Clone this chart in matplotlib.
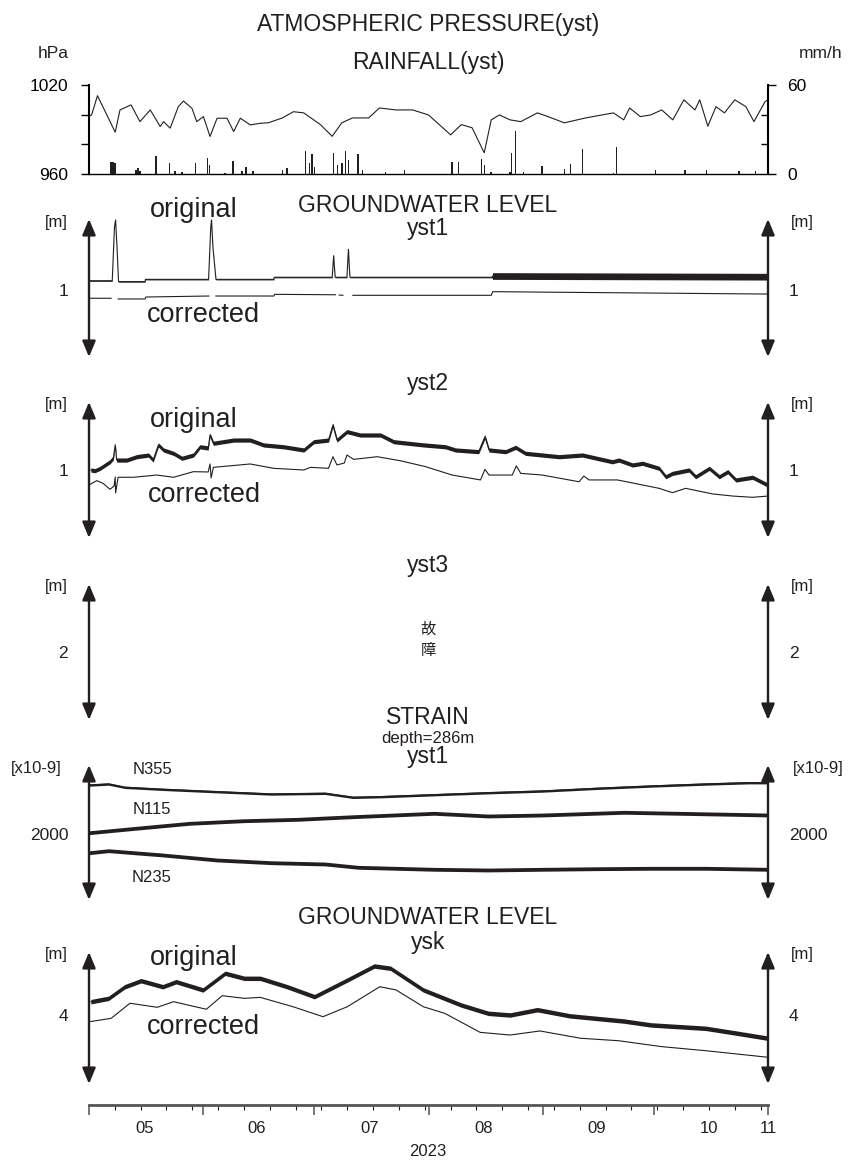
import numpy as np
import matplotlib
matplotlib.use('Agg')
import matplotlib.pyplot as plt
import matplotlib.dates as mdates

plt.rcParams['font.family'] = ['Liberation Sans', 'DejaVu Sans']

INK = '#231f20'
W, H = 850, 1164
START = np.datetime64('2023-05-01T00:00')
END = np.datetime64('2023-11-01T00:00')
nan = np.nan

# ---- data (days counted from 2023-05-01) ----
press_days = [0.0, 0.7, 2.3, 7.1, 8.4, 11.4, 13.8, 16.6, 19.3, 20.2, 22.0, 24.2, 25.6,
              27.9, 29.2, 31.0, 32.8, 34.7, 37.4, 39.2, 41.0, 43.7, 46.4, 48.6, 52.4,
              55.4, 58.2, 62.7, 65.9, 68.5, 71.4, 75.8, 78.7, 83.2, 87.7, 92.0, 98.0,
              100.9, 103.8, 107.1, 109.0, 111.2, 114.1, 117.0, 121.5, 124.4, 128.8,
              134.6, 142.1, 144.9, 146.5, 149.4, 152.2, 155.2, 158.2, 161.2, 164.2,
              165.5, 167.7, 169.9, 172.2, 175.0, 178.0, 180.2, 183.2, 184.0]
press_hpa = [999.0, 999.8, 1012.8, 988.2, 1003.2, 1006.6, 995.3, 1003.2, 992.0, 995.3,
             990.9, 1005.4, 1009.2, 1004.3, 995.3, 998.7, 985.3, 997.6, 997.6, 988.6,
             997.6, 993.1, 994.2, 994.5, 997.8, 1002.0, 1001.2, 993.3, 985.4, 994.5,
             997.8, 997.8, 1004.5, 1003.2, 1003.2, 999.8, 986.4, 993.3, 991.2, 974.3,
             996.5, 999.8, 996.5, 995.3, 1001.2, 998.7, 994.5, 997.8, 1001.2, 996.5,
             1004.5, 998.7, 999.8, 1003.2, 996.5, 1010.0, 1003.2, 1010.0, 992.2, 1005.4,
             1001.2, 1010.0, 1005.4, 995.3, 1008.8, 1010.0]

rain_days = [6.0, 6.5, 7.1, 12.8, 13.3, 13.8, 18.2, 21.8, 23.3, 25.2, 28.8, 32.1, 32.6,
             36.9, 39.0, 41.4, 42.6, 44.4, 52.4, 53.7, 58.6, 59.7, 60.4, 61.1, 66.2,
             67.3, 68.5, 69.5, 70.3, 72.9, 74.1, 80.3, 85.5, 98.4, 100.1, 106.3, 107.2,
             109.0, 114.1, 114.5, 115.6, 117.8, 122.7, 128.8, 130.5, 133.7, 142.1, 142.9,
             153.5, 161.5, 167.4, 176.1, 180.6]
rain_mmh = [8.0, 8.2, 7.5, 3.0, 4.0, 2.0, 11.8, 7.4, 1.7, 1.5, 7.4, 10.7, 6.0, 1.0, 9.0,
            1.7, 5.0, 1.7, 2.7, 4.2, 15.5, 7.3, 13.3, 4.9, 14.2, 6.0, 7.1, 15.5, 9.3,
            13.3, 2.7, 1.5, 2.7, 8.2, 7.8, 10.4, 6.0, 1.5, 1.5, 14.2, 28.7, 1.5, 5.5,
            3.3, 6.7, 16.7, 0.9, 18.2, 2.7, 2.7, 2.7, 2.2, 2.2]

# groundwater yst1 [m]
yst1_orig_days = [0.0, 6.3, 6.9, 7.2, 7.6, 8.0, 15.2, 15.3, 32.4, 33.0, 33.2, 33.6, 34.4,
                  50.1, 50.2, 65.9, 66.3, 66.7, 69.9, 70.3, 70.7, 109.2, 109.4, 184.0]
yst1_orig = [1.066, 1.066, 1.45, 1.50, 1.30, 1.060, 1.060, 1.076, 1.076, 1.45, 1.50, 1.30,
             1.076, 1.076, 1.091, 1.091, 1.245, 1.091, 1.091, 1.291, 1.091, 1.091, 1.100, 1.095]
yst1_orig_spread = [0.004] * 22 + [0.024, 0.024]
yst1_corr_days = [0.0, 6.0, 6.5, 7.9, 15.2, 15.4, 32.5, 33.0, 34.4, 50.1, 50.3, 66.8, 67.3,
                  67.8, 68.8, 69.5, 71.5, 109.0, 109.4, 184.0]
yst1_corr = [0.941, 0.941, nan, 0.936, 0.936, 0.950, 0.957, nan, 0.957, 0.957, 0.969,
             0.966, nan, 0.964, 0.962, nan, 0.962, 0.962, 0.988, 0.971]

# groundwater yst2 [m]
yst2_orig_days = [0.5, 1.6, 3.0, 5.7, 6.6, 7.1, 7.5, 10.2, 12.9, 16.1, 17.4, 18.8, 20.2,
                  22.9, 25.2, 28.3, 30.1, 32.3, 32.8, 33.7, 39.2, 43.7, 47.3, 52.7, 58.2,
                  60.9, 64.9, 66.1, 67.2, 69.9, 73.5, 79.0, 82.6, 90.7, 96.6, 99.3, 105.6,
                  107.3, 108.4, 112.9, 115.6, 118.3, 127.4, 133.7, 141.8, 143.6, 147.3,
                  150.0, 154.5, 156.3, 158.1, 162.6, 164.4, 168.1, 170.8, 173.1, 175.3,
                  179.8, 183.9]
yst2_orig = [1.000, 0.995, 1.012, 1.059, 1.086, 1.179, 1.071, 1.071, 1.095, 1.107, 1.071,
             1.179, 1.143, 1.119, 1.084, 1.107, 1.166, 1.157, 1.250, 1.191, 1.214, 1.214,
             1.179, 1.166, 1.143, 1.202, 1.214, 1.321, 1.214, 1.274, 1.250, 1.250, 1.202,
             1.179, 1.166, 1.143, 1.131, 1.238, 1.143, 1.131, 1.162, 1.119, 1.095, 1.107,
             1.059, 1.071, 1.036, 1.048, 1.012, 0.952, 0.976, 1.000, 0.952, 1.012, 0.952,
             0.988, 0.929, 0.948, 0.893]
yst2_corr_days = [0.0, 2.1, 3.8, 5.7, 6.8, 7.1, 7.2, 7.9, 12.0, 18.4, 22.9, 28.3, 32.3,
                  32.8, 33.1, 33.7, 43.7, 50.0, 58.2, 60.0, 64.9, 66.1, 67.2, 69.2, 69.9,
                  71.7, 78.1, 84.4, 91.2, 98.4, 106.1, 107.3, 108.4, 114.7, 115.8, 117.0,
                  122.8, 132.8, 134.1, 135.5, 143.2, 154.5, 158.1, 161.7, 169.0, 174.4,
                  179.8, 184.0]
yst2_corr = [0.893, 0.924, 0.905, 0.862, 0.886, 0.950, 0.836, 0.948, 0.948, 0.964, 0.948,
             0.988, 0.986, 1.043, 0.943, 1.019, 1.043, 1.012, 1.000, 1.019, 1.012, 1.095,
             1.036, 1.050, 1.107, 1.076, 1.095, 1.066, 1.024, 0.964, 0.929, 1.005, 0.964,
             0.964, 1.029, 0.976, 0.964, 0.916, 0.957, 0.929, 0.929, 0.869, 0.838, 0.869,
             0.829, 0.814, 0.805, 0.814]

# strain yst1 [x10-9]
n355_days = [0.1, 5.3, 9.7, 20.0, 34.7, 49.4, 64.0, 71.5, 78.8, 93.5, 108.2, 122.9, 137.6,
             152.3, 167.1, 178.8, 184.0]
n355 = [2490, 2500, 2467, 2447, 2423, 2400, 2407, 2367, 2373, 2393, 2413, 2430, 2457,
        2480, 2500, 2513, 2513]
n115_days = [0.1, 12.6, 27.3, 42.0, 56.7, 71.5, 93.5, 108.2, 122.9, 145.0, 159.7, 184.0]
n115 = [2013, 2057, 2107, 2133, 2147, 2173, 2207, 2180, 2190, 2217, 2207, 2190]
n235_days = [0.1, 5.3, 20.0, 34.7, 49.4, 64.0, 72.9, 93.5, 108.2, 122.9, 137.6, 152.3,
             167.1, 184.0]
n235 = [1813, 1833, 1790, 1740, 1713, 1700, 1667, 1647, 1640, 1647, 1653, 1657, 1657, 1647]
strain_spread = {'N355': 12, 'N115': 19, 'N235': 19}

# groundwater ysk [m]
ysk_orig_days = [0.5, 5.3, 9.7, 14.1, 20.0, 23.6, 30.9, 36.9, 42.1, 46.4, 53.7, 61.1, 70.0,
                 77.3, 81.7, 90.6, 100.9, 108.2, 114.1, 121.5, 130.3, 144.9, 152.3, 167.1,
                 175.8, 184.0]
ysk_orig = [4.095, 4.119, 4.202, 4.245, 4.202, 4.238, 4.179, 4.298, 4.262, 4.262, 4.202,
            4.131, 4.250, 4.350, 4.334, 4.179, 4.071, 4.012, 4.000, 4.038, 3.994, 3.957,
            3.929, 3.905, 3.869, 3.834]
ysk_corr_days = [0.1, 6.0, 11.1, 18.5, 22.9, 31.8, 36.1, 42.1, 46.4, 55.3, 63.4, 70.0, 78.8,
                 83.2, 90.6, 96.4, 106.0, 114.1, 122.2, 133.2, 143.6, 155.2, 167.1, 184.0]
ysk_corr = [3.952, 3.976, 4.084, 4.055, 4.095, 4.041, 4.138, 4.119, 4.126, 4.059, 3.988,
            4.059, 4.202, 4.179, 4.059, 4.012, 3.876, 3.857, 3.886, 3.834, 3.816, 3.774,
            3.745, 3.698]

month_labels = ['05', '06', '07', '08', '09', '10', '11']
month_label_at = ['2023-05-16', '2023-06-15T12', '2023-07-16', '2023-08-16',
                  '2023-09-15T12', '2023-10-16', '2023-11-01']


def to_dates(days):
    return START + (np.asarray(days, float) * 1440).round().astype('timedelta64[m]')


fig = plt.figure(figsize=(W / 100, H / 100), dpi=100)


def px_axes(top, bottom, left=89, right=768):
    return fig.add_axes([left / W, 1 - bottom / H, (right - left) / W, (bottom - top) / H])


def ftext(x, y, s, size, ha='center', **kw):
    fig.text(x / W, 1 - y / H, s, fontsize=size, ha=ha, va='center', color=INK, **kw)


def level_panel(top, bottom, tick_px, tick_val, px_per_unit, tick_label, unit,
                unit_left=56, unit_right=802):
    ax = px_axes(top, bottom)
    ax.set_xlim(START, END)
    ax.set_ylim(tick_val - (bottom - tick_px) / px_per_unit,
                tick_val + (tick_px - top) / px_per_unit)
    for s in ax.spines.values():
        s.set_visible(False)
    ax.set_xticks([])
    ax.set_yticks([tick_val])
    ax.set_yticklabels([tick_label])
    ax.tick_params(axis='y', length=0, pad=15, labelsize=12.5, labelright=True,
                   labelcolor=INK)
    for xa in (0, 1):
        ax.annotate('', xy=(xa, 1), xytext=(xa, 0), xycoords='axes fraction',
                    arrowprops=dict(arrowstyle='<|-|>,head_length=0.6,head_width=0.25',
                                    mutation_scale=16, lw=1.7, color=INK,
                                    shrinkA=0, shrinkB=0))
    ftext(unit_left, top + 3, unit, 12)
    ftext(unit_right, top + 3, unit, 12)
    return ax


def noisy(ax, days, vals, spread, lw=0.8):
    d = to_dates(days)
    v = np.asarray(vals, float)
    sp = np.asarray(spread, float) * np.ones_like(v)
    ax.fill_between(d, v - sp, v + sp, color=INK, lw=0)
    ax.plot(d, v, color=INK, lw=lw)


# ---- atmospheric pressure / rainfall ----
axp = px_axes(85, 174)
axp.plot(to_dates(press_days), press_hpa, color=INK, lw=0.8)
axp.set_xlim(START, END)
axp.set_ylim(960, 1020)
axp.set_yticks([960, 1020])
axp.set_yticks([980, 1000], minor=True)
axp.set_xticks([])
axp.spines['top'].set_visible(False)
axp.spines['right'].set_visible(False)
axp.spines['left'].set_linewidth(1.5)
axp.spines['bottom'].set_linewidth(1.0)
axp.tick_params(axis='y', which='both', length=6, width=1.0, pad=9, labelsize=12.5)

axr = axp.twinx()
axr.bar(to_dates(rain_days), rain_mmh, width=0.4, color=INK, lw=0)
axr.set_ylim(0, 60)
axr.set_yticks([0, 60])
axr.set_yticks([20, 40], minor=True)
for k in ('top', 'left', 'bottom'):
    axr.spines[k].set_visible(False)
axr.spines['right'].set_linewidth(1.5)
axr.tick_params(axis='y', which='major', length=6, width=1.0, pad=8, labelsize=12.5)
axr.tick_params(axis='y', which='minor', direction='in', length=5, width=1.0)

ftext(428, 25, 'ATMOSPHERIC PRESSURE(yst)', 16.5)
ftext(428, 63, 'RAINFALL(yst)', 16.5)
ftext(53, 53, 'hPa', 12.5)
ftext(821, 53, 'mm/h', 12.5)

# ---- groundwater yst1 ----
ax1 = level_panel(219, 357, 290, 1, 140, '1', '[m]')
noisy(ax1, yst1_orig_days, yst1_orig, yst1_orig_spread)
ax1.plot(to_dates(yst1_corr_days), yst1_corr, color=INK, lw=0.8)
ftext(428, 205, 'GROUNDWATER LEVEL', 16.5)
ftext(428, 228, 'yst1', 16.5)
ftext(194, 210, 'original', 19.5)
ftext(203, 315, 'corrected', 19.5)

# ---- groundwater yst2 ----
ax2 = level_panel(402, 538, 470, 1, 140, '1', '[m]')
noisy(ax2, yst2_orig_days, yst2_orig, 0.015)
ax2.plot(to_dates(yst2_corr_days), yst2_corr, color=INK, lw=0.8)
ftext(428, 384, 'yst2', 16.5)
ftext(194, 420, 'original', 19.5)
ftext(204, 495, 'corrected', 19.5)

# ---- groundwater yst3 (out of order) ----
ax3 = level_panel(584, 720, 652, 2, 140, '2', '[m]')
ftext(428, 565, 'yst3', 16.5)
ftext(428, 640, '故\n障', 11, linespacing=1.3,
      family=['Noto Sans CJK JP', 'DejaVu Sans'])

# ---- strain yst1 ----
ax4 = level_panel(765, 900, 834, 2000, 0.1, '2000', '[x10-9]',
                  unit_left=36, unit_right=818)
noisy(ax4, n355_days, n355, strain_spread['N355'])
noisy(ax4, n115_days, n115, strain_spread['N115'])
noisy(ax4, n235_days, n235, strain_spread['N235'])
ftext(428, 718, 'STRAIN', 16.5)
ftext(428, 739, 'depth=286m', 12)
ftext(428, 757, 'yst1', 16.5)
for name, y in (('N355', 770), ('N115', 810), ('N235', 878)):
    ftext(152, y, name, 12)

# ---- groundwater ysk ----
ax5 = level_panel(952, 1084, 1015, 4, 140, '4', '[m]')
noisy(ax5, ysk_orig_days, ysk_orig, 0.016)
ax5.plot(to_dates(ysk_corr_days), ysk_corr, color=INK, lw=0.8)
ftext(428, 917, 'GROUNDWATER LEVEL', 16.5)
ftext(428, 942, 'ysk', 16.5)
ftext(194, 958, 'original', 19.5)
ftext(203, 1027, 'corrected', 19.5)

# ---- time axis ----
axx = px_axes(1104, 1105)
axx.set_xlim(START, END)
axx.set_yticks([])
for k in ('top', 'left', 'right'):
    axx.spines[k].set_visible(False)
axx.spines['bottom'].set_color('#555555')
axx.spines['bottom'].set_linewidth(2.0)
axx.xaxis.set_major_locator(mdates.MonthLocator())
axx.xaxis.set_minor_locator(mdates.WeekdayLocator(byweekday=mdates.MO))
axx.tick_params(axis='x', which='major', length=7, width=1.4, color='#777777',
                labelbottom=False)
axx.tick_params(axis='x', which='minor', length=3.5, width=0.8, color=INK)
for lab, at in zip(month_labels, month_label_at):
    axx.annotate(lab, xy=(np.datetime64(at), 0), xycoords=('data', 'axes fraction'),
                 xytext=(0, -17), textcoords='offset points', ha='center', va='center',
                 fontsize=12, color=INK, annotation_clip=False)
ftext(428, 1152, '2023', 12)

fig.savefig('out.png', dpi=100)
